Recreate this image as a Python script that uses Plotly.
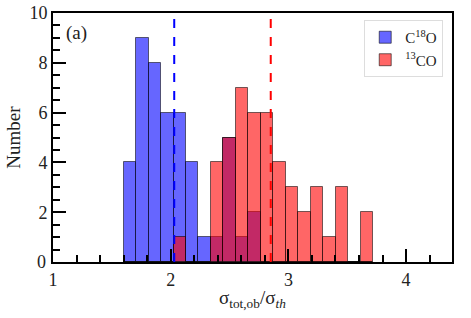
import plotly.graph_objects as go

# Histogram data (bin left edges share a common grid)
bin_start = 1.60
bin_width = 0.106
c18o_counts = [4, 9, 8, 6, 6, 4, 1, 1, 5, 1, 2, 0, 0, 0, 0, 0, 0, 0, 0, 0]
co13_counts = [0, 0, 0, 0, 1, 0, 0, 4, 5, 7, 6, 6, 4, 3, 2, 3, 1, 3, 0, 2]
bin_centers = [bin_start + bin_width * (i + 0.5) for i in range(len(c18o_counts))]
mean_c18o = 2.03
mean_13co = 2.85

x_ticks = [1, 2, 3, 4]
y_ticks = [0, 2, 4, 6, 8, 10]

FONT = "Liberation Serif"

fig = go.Figure()
fig.add_trace(go.Bar(
    x=bin_centers, y=c18o_counts, width=bin_width, name="C<sup>18</sup>O",
    marker=dict(color="rgba(0,0,255,0.6)", line=dict(color="rgba(0,0,0,0.55)", width=1)),
))
fig.add_trace(go.Bar(
    x=bin_centers, y=co13_counts, width=bin_width, name="<sup>13</sup>CO",
    marker=dict(color="rgba(255,0,0,0.6)", line=dict(color="rgba(0,0,0,0.55)", width=1)),
))

fig.add_shape(type="line", xref="x", yref="paper", x0=mean_c18o, x1=mean_c18o, y0=0, y1=1,
              line=dict(color="blue", width=2, dash="dash"))
fig.add_shape(type="line", xref="x", yref="paper", x0=mean_13co, x1=mean_13co, y0=0, y1=1,
              line=dict(color="red", width=2, dash="dash"))

fig.add_annotation(text="(a)", xref="paper", yref="paper", x=0.028, y=0.918,
                   xanchor="left", yanchor="middle", showarrow=False,
                   font=dict(family=FONT, size=19, color="#222"))
# x axis title
fig.add_annotation(text="σ<sub>tot,ob</sub>/σ<sub><i>th</i></sub>", xref="paper", yref="paper",
                   x=0.5, y=-0.15, xanchor="center", yanchor="middle", showarrow=False,
                   font=dict(family=FONT, size=19, color="#222"))
# bottom y tick label (plotly drops it at the axis corner), placed at the bottom of the y axis
fig.add_annotation(text=str(y_ticks[0]), xref="paper", yref="paper", x=-0.012, y=0,
                   xanchor="right", yanchor="middle", showarrow=False,
                   font=dict(family=FONT, size=18, color="#222"))

fig.update_layout(
    width=471, height=318,
    margin=dict(l=53, r=19, t=13, b=56),
    paper_bgcolor="white", plot_bgcolor="white",
    barmode="overlay",
    bargap=0,
    font=dict(family=FONT, size=18, color="#222"),
    legend=dict(x=0.978, y=0.972, xanchor="right", yanchor="top",
                bgcolor="white", bordercolor="#dddddd", borderwidth=1,
                font=dict(family=FONT, size=15, color="#222"),
                itemwidth=30, tracegroupgap=2),
    xaxis=dict(range=[1, 4.39], tickvals=x_ticks, ticks="inside", ticklen=13, tickwidth=1.5,
               tickcolor="black", showline=True, linecolor="black", linewidth=2, mirror=True,
               showgrid=False, zeroline=False, automargin=False, ticklabeloverflow="allow",
               minor=dict(dtick=0.2, ticks="inside", ticklen=7, tickwidth=1.5, tickcolor="black")),
    yaxis=dict(range=[0, 10], tickvals=y_ticks[1:], ticks="inside", ticklen=13, tickwidth=1.5,
               tickcolor="black", showline=True, linecolor="black", linewidth=2, mirror=True,
               showgrid=False, zeroline=False, automargin=False, ticklabeloverflow="allow",
               minor=dict(tick0=0, dtick=0.5, ticks="inside", ticklen=7, tickwidth=1.5, tickcolor="black"),
               title=dict(text="Number", font=dict(family=FONT, size=19, color="#222"), standoff=4)),
)

# remove the browser's default 8px body margin so the figure sits at the window origin
fig.write_html("out.html", config={"displayModeBar": False},
               post_script="document.body.style.margin='0';")
